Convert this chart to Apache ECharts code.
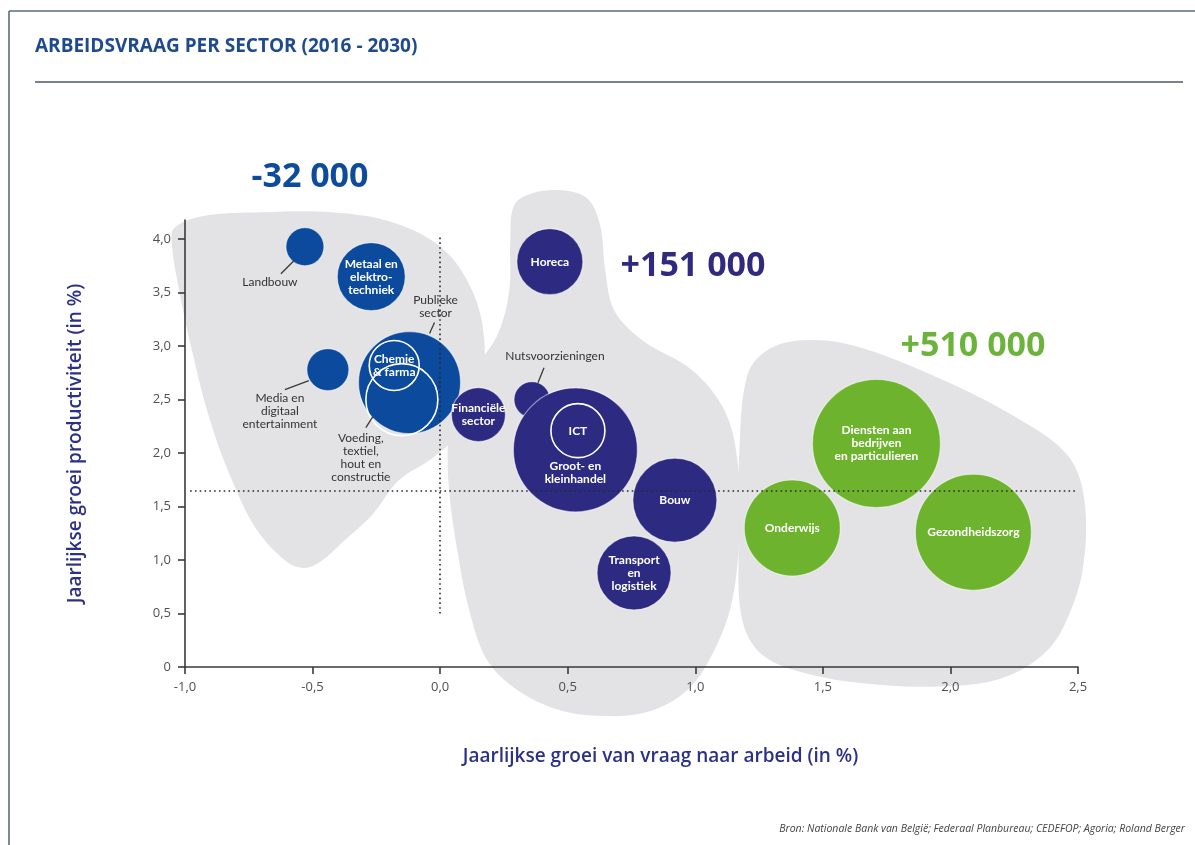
<!DOCTYPE html>
<html>
<head>
<meta charset="utf-8">
<title>Arbeidsvraag per sector (2016 - 2030)</title>
<script src="https://cdn.jsdelivr.net/npm/echarts@6/dist/echarts.min.js"></script>
<style>
  html, body { margin: 0; padding: 0; background: #ffffff; }
  #chart { width: 1195px; height: 845px; }
</style>
</head>
<body>
<div id="chart"></div>
<script>
// ---- Data -------------------------------------------------------------
const sectors = [
  'Landbouw', 'Metaal en elektrotechniek', 'Media en digitaal entertainment',
  'Publieke sector', 'Voeding, textiel, hout en constructie', 'Chemie & farma',
  'Horeca', 'Nutsvoorzieningen', 'Financiële sector', 'Groot- en kleinhandel', 'ICT',
  'Bouw', 'Transport en logistiek',
  'Diensten aan bedrijven en particulieren', 'Onderwijs', 'Gezondheidszorg'
];
// annual growth of labour demand (%)
const demandGrowth = [-0.53, -0.27, -0.44, -0.12, -0.15, -0.18, 0.43, 0.36, 0.15, 0.53, 0.54, 0.92, 0.76, 1.71, 1.38, 2.09];
// annual productivity growth (%)
const productivityGrowth = [3.93, 3.65, 2.78, 2.66, 2.50, 2.82, 3.79, 2.50, 2.36, 2.03, 2.21, 1.56, 0.88, 2.09, 1.30, 1.26];
// relative sector size (bubble radius)
const bubbleSize = [19, 34, 21, 51, 36, 25, 33, 18, 27, 62, 27, 42, 37, 64, 48, 58];
// 0 = krimp, 1 = groei, 2 = sterke groei
const sectorGroup = [0, 0, 0, 0, 0, 0, 1, 1, 1, 1, 1, 1, 1, 2, 2, 2];
const groupTotals = ['-32 000', '+151 000', '+510 000'];
// sectors drawn as an outline inside a larger sector
const nestedSectors = ['Voeding, textiel, hout en constructie', 'Chemie & farma', 'ICT'];

// axis ticks
const xTicks = [-1.0, -0.5, 0.0, 0.5, 1.0, 1.5, 2.0, 2.5];
const yTicks = [0, 0.5, 1.0, 1.5, 2.0, 2.5, 3.0, 3.5, 4.0];
// reference lines (average growth)
const refDemand = 0.0;
const refProductivity = 1.65;

// outlines of the three sector clusters (data units)
const clusterKrimp = [
  [-1.043, 4.103], [-0.933, 4.215], [-0.698, 4.252], [-0.424, 4.252], [-0.188, 4.159],
  [0.008, 3.916], [0.125, 3.523], [0.173, 3.056], [0.157, 2.589], [0.086, 2.215],
  [-0.031, 1.953], [-0.161, 1.748], [-0.267, 1.421], [-0.373, 1.187], [-0.471, 0.981],
  [-0.533, 0.925], [-0.600, 0.981], [-0.718, 1.280], [-0.816, 1.748], [-0.902, 2.308],
  [-0.973, 2.963], [-1.027, 3.570], [-1.051, 3.944]
];
const clusterGroei = [
  [0.290, 4.318], [0.361, 4.430], [0.478, 4.458], [0.576, 4.383], [0.627, 4.131],
  [0.647, 3.710], [0.682, 3.336], [0.792, 3.056], [0.988, 2.776], [1.114, 2.402],
  [1.165, 1.935], [1.173, 1.280], [1.145, 0.626], [1.075, 0.159], [0.969, -0.215],
  [0.812, -0.421], [0.635, -0.458], [0.467, -0.402], [0.302, -0.215], [0.184, 0.065],
  [0.114, 0.533], [0.067, 1.093], [0.035, 1.654], [0.031, 2.121], [0.055, 2.449],
  [0.125, 2.757], [0.224, 3.103], [0.271, 3.523], [0.275, 3.991]
];
const clusterSterk = [
  [1.204, 2.729], [1.282, 2.963], [1.420, 3.056], [1.616, 3.009], [1.929, 2.729],
  [2.243, 2.355], [2.459, 1.981], [2.525, 1.561], [2.518, 0.907], [2.447, 0.393],
  [2.361, 0.112], [2.204, -0.103], [2.008, -0.178], [1.733, -0.168], [1.459, -0.075],
  [1.263, 0.112], [1.184, 0.439], [1.169, 1.093], [1.173, 2.028]
];

// ---- Styling ------------------------------------------------------------
const groupColors = ['#0b4a9c', '#2d2a82', '#6eb32e'];
const groupTextColors = ['#0e4c9b', '#2f2a7f', '#6cb33b'];
const FONT = "'Open Sans', 'Noto Sans', sans-serif";
const LABEL_FONT = "Lato, 'Open Sans', sans-serif";

// label text and placement per sector (offsets in px from bubble centre)
const labelLayout = {
  'Landbouw': { text: 'Landbouw', out: true, offset: [-35, 35], leader: [[-11, 14], [-24, 27]] },
  'Metaal en elektrotechniek': { text: 'Metaal en\nelektro-\ntechniek' },
  'Media en digitaal entertainment': { text: 'Media en\ndigitaal\nentertainment', out: true, offset: [-48, 41], leader: [[-19, 11], [-43, 20]] },
  'Publieke sector': { text: 'Publieke\nsector', out: true, offset: [26, -76], leader: [[25, -60], [20, -49]] },
  'Voeding, textiel, hout en constructie': { text: 'Voeding,\ntextiel,\nhout en\nconstructie', out: true, offset: [-41, 58], leader: [[-29, 17], [-36, 28]] },
  'Chemie & farma': { text: 'Chemie\n& farma' },
  'Horeca': { text: 'Horeca' },
  'Nutsvoorzieningen': { text: 'Nutsvoorzieningen', out: true, offset: [23, -44], leader: [[12, -32], [6, -17]] },
  'Financiële sector': { text: 'Financiële\nsector' },
  'Groot- en kleinhandel': { text: 'Groot- en\nkleinhandel', offset: [0, 23] },
  'ICT': { text: 'ICT' },
  'Bouw': { text: 'Bouw' },
  'Transport en logistiek': { text: 'Transport\nen\nlogistiek' },
  'Diensten aan bedrijven en particulieren': { text: 'Diensten aan\nbedrijven\nen particulieren' },
  'Onderwijs': { text: 'Onderwijs' },
  'Gezondheidszorg': { text: 'Gezondheidszorg' }
};

// ---- Build bubble data -------------------------------------------------
const bubbleData = sectors.map((name, i) => {
  const nested = nestedSectors.indexOf(name) >= 0;
  const col = groupColors[sectorGroup[i]];
  return {
    name: name,
    value: [demandGrowth[i], productivityGrowth[i], bubbleSize[i]],
    itemStyle: nested
      ? { color: 'rgba(0,0,0,0)', borderColor: '#ffffff', borderWidth: 1.6, opacity: 1 }
      : { color: col, borderColor: 'rgba(255,255,255,0.5)', borderWidth: 1.2, opacity: 1 }
  };
});

// ---- Chart -------------------------------------------------------------
const chart = echarts.init(document.getElementById('chart'), null, { renderer: 'canvas' });

const axisCommon = {
  z: 2,
  axisLine: { show: true, onZero: false, lineStyle: { color: '#3a3a3a', width: 1.6 } },
  splitLine: { show: false }
};

const option = {
  backgroundColor: '#ffffff',
  animation: false,
  grid: { left: 185, right: 117, top: 220, bottom: 178, containLabel: false },
  xAxis: Object.assign({}, axisCommon, {
    type: 'value',
    min: -1.0, max: 2.5, interval: 0.5,
    name: 'Jaarlijkse groei van vraag naar arbeid (in %)',
    nameLocation: 'middle',
    nameGap: 80,
    nameTextStyle: { color: '#2c3183', fontFamily: FONT, fontSize: 19, fontWeight: 600, padding: [0, 0, 0, 58] },
    axisTick: { show: true, inside: false, length: 7, lineStyle: { color: '#3a3a3a', width: 1.6 }, customValues: xTicks },
    axisLabel: { color: '#505050', fontFamily: FONT, fontSize: 13, margin: 14, customValues: xTicks,
      formatter: v => v.toFixed(1).replace('.', ',') }
  }),
  yAxis: Object.assign({}, axisCommon, {
    type: 'value',
    min: 0, max: 4.18,
    name: 'Jaarlijkse groei productiviteit (in %)',
    nameLocation: 'middle',
    nameGap: 100,
    nameRotate: 90,
    nameTextStyle: { color: '#2c3183', fontFamily: FONT, fontSize: 19, fontWeight: 600 },
    axisTick: { show: true, inside: false, length: 7, lineStyle: { color: '#3a3a3a', width: 1.6 }, customValues: yTicks },
    axisLabel: { color: '#505050', fontFamily: FONT, fontSize: 13, margin: 14, customValues: yTicks,
      formatter: v => (Math.abs(v) < 1e-9 ? '0' : v.toFixed(1).replace('.', ',')) }
  }),
  series: [
    {
      // grey cluster shapes behind the bubbles
      type: 'custom',
      name: 'clusters',
      z: 1,
      silent: true,
      clip: false,
      data: [[0, 0], [1, 0], [2, 0]],
      renderItem: function (params, api) {
        const shapes = [clusterKrimp, clusterGroei, clusterSterk];
        const pts = shapes[params.dataIndex].map(p => api.coord(p));
        return {
          type: 'polygon',
          shape: { points: pts, smooth: 0.35 },
          style: { fill: '#e3e3e5', stroke: null }
        };
      }
    },
    {
      // dotted reference lines
      type: 'line',
      name: 'referentie',
      z: 3,
      silent: true,
      data: [],
      markLine: {
        silent: true,
        symbol: ['none', 'none'],
        label: { show: false },
        lineStyle: { color: '#2a2a2a', width: 1.6, type: [1.6, 3.2] },
        data: [
          [{ coord: [refDemand, 0.5] }, { coord: [refDemand, 4.03] }],
          [{ coord: [-0.98, refProductivity] }, { coord: [2.5, refProductivity] }]
        ]
      }
    },
    {
      type: 'scatter',
      name: 'sectoren',
      z: 4,
      silent: true,
      symbol: 'circle',
      symbolSize: d => d[2] * 2,
      data: bubbleData,
      label: { show: false }
    },
    {
      // sector names and leader lines
      type: 'custom',
      name: 'labels',
      z: 5,
      silent: true,
      clip: false,
      data: sectors.map((n, i) => [demandGrowth[i], productivityGrowth[i]]),
      renderItem: function (params, api) {
        const name = sectors[params.dataIndex];
        const lay = labelLayout[name];
        const c = api.coord([api.value(0), api.value(1)]);
        const off = lay.offset || [0, 0];
        const children = [];
        if (lay.leader) {
          const ld = lay.leader;
          children.push({
            type: 'line',
            shape: { x1: c[0] + ld[0][0], y1: c[1] + ld[0][1], x2: c[0] + ld[1][0], y2: c[1] + ld[1][1] },
            style: { stroke: '#3a3a3a', lineWidth: 1.3 }
          });
        }
        children.push({
          type: 'text',
          style: {
            text: lay.text,
            x: c[0] + off[0],
            y: c[1] + off[1],
            fill: lay.out ? '#333333' : '#ffffff',
            fontFamily: LABEL_FONT,
            fontWeight: lay.out ? 'normal' : 'bold',
            fontSize: 12,
            lineHeight: 13,
            align: 'center',
            verticalAlign: 'middle'
          }
        });
        return { type: 'group', children: children };
      }
    }
  ],
  graphic: [
    // frame
    { type: 'line', silent: true, shape: { x1: 9, y1: 11, x2: 1195, y2: 11 }, style: { stroke: '#5d6b7e', lineWidth: 1.6 } },
    { type: 'line', silent: true, shape: { x1: 9, y1: 11, x2: 9, y2: 845 }, style: { stroke: '#5d6b7e', lineWidth: 1.6 } },
    { type: 'line', silent: true, shape: { x1: 35, y1: 82, x2: 1183, y2: 82 }, style: { stroke: '#4e5868', lineWidth: 1.3 } },
    // title
    { type: 'text', silent: true, x: 35, y: 47,
      style: { text: 'ARBEIDSVRAAG PER SECTOR (2016 - 2030)', fill: '#1f4a8e', font: "bold 19px " + FONT, verticalAlign: 'middle' } },
    // group totals
    { type: 'text', silent: true, x: 310, y: 177,
      style: { text: groupTotals[0], fill: groupTextColors[0], font: "bold 34px " + FONT, align: 'center', verticalAlign: 'middle' } },
    { type: 'text', silent: true, x: 693, y: 266,
      style: { text: groupTotals[1], fill: groupTextColors[1], font: "bold 34px " + FONT, align: 'center', verticalAlign: 'middle' } },
    { type: 'text', silent: true, x: 973, y: 346,
      style: { text: groupTotals[2], fill: groupTextColors[2], font: "bold 34px " + FONT, align: 'center', verticalAlign: 'middle' } },
    // source
    { type: 'text', silent: true, x: 1185, y: 829,
      style: { text: 'Bron: Nationale Bank van België; Federaal Planbureau; CEDEFOP; Agoria; Roland Berger',
        fill: '#444444', font: "italic 10.5px " + FONT, align: 'right', verticalAlign: 'middle' } }
  ]
};

chart.setOption(option);
</script>
</body>
</html>
